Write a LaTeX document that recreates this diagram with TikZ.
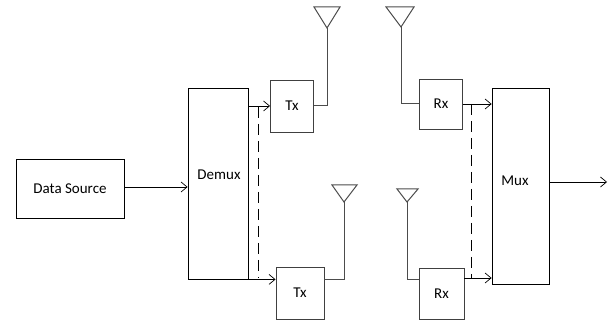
\documentclass[tikz,border=0pt]{standalone}
\usepackage{fontspec}
\setmainfont{Carlito}
\usepackage{tikz}
\usetikzlibrary{calc}
\usetikzlibrary{arrows.meta}
\usetikzlibrary{positioning}

\begin{document}
\begin{tikzpicture}[x=1pt, y=-1pt,
    block/.style={rectangle, draw=black, line width=0.8pt, inner sep=0pt},
    radio/.style={rectangle, draw=black!75, line width=0.9pt, inner sep=0pt,
      minimum width=43pt, minimum height=52pt},
    feed/.style={draw=black!70, line width=1pt},
    link/.style={-{Straight Barb[length=6pt, width=10pt, line width=0.7pt]}, line width=0.8pt},
    tie/.style={line width=0.8pt, dash pattern=on 11pt off 6pt}]
  \useasboundingbox (0,0) rectangle (608,320);
  \fontsize{15}{18}\selectfont

    % Define nodes
    \node[block, minimum width=108pt, minimum height=59pt] (src) at (70,188.5) {Data Source};
    \node[block, minimum width=60pt, minimum height=191pt] (demux) at (218,183.5) {};
    \node (demuxlbl) at (219,175) {Demux};
    \node[block, minimum width=57pt, minimum height=196pt] (mux) at (520.5,186) {};
    \node (muxlbl) at (515,181) {Mux};
    \node[radio] (tx1) at (292,106) {Tx};
    \node[radio, minimum width=48pt] (tx2) at (300,293) {Tx};
    \node[radio, minimum height=50pt] (rx1) at (441,104) {Rx};
    \node[radio, minimum width=45pt, minimum height=51pt] (rx2) at (441.5,293.5) {Rx};
    \coordinate (ant1) at (327,28);
    \coordinate (ant2) at (344,202);
    \coordinate (ant3) at (401,27);
    \coordinate (ant4) at (407,202);
    \coordinate (out) at (607,182);

    % Antennas
    \draw[feed] (ant1) -- ++(-13,-21) -- ++(26,0) -- cycle;
    \draw[feed] (ant2) -- ++(-12,-17) -- ++(25,0) -- cycle;
    \draw[feed] (ant3) -- ++(-15,-20) -- ++(28,0) -- cycle;
    \draw[feed] (ant4) -- ++(-10,-13) -- ++(21,0) -- cycle;

    % Connect the nodes
    \draw[link] (src.east |- 0,187) -- (demux.west |- 0,187);
    \draw[link] (demux.east |- tx1.west) -- (tx1.west);
    \draw[link] (demux.south east) -- (demux.south east -| tx2.west);
    \draw[feed] (tx1.east) -| (ant1);
    \draw[feed] (tx2.east |- demux.south east) -| (ant2);
    \draw[feed] (ant3) |- (rx1.west);
    \draw[feed] (ant4) |- (rx2.west |- 0,280);
    \draw[link] (rx1.east) -- (rx1.east -| mux.west);
    \draw[link] (rx2.east |- 0,278) -- (mux.west |- 0,278);
    \draw[link] (mux.east |- out) -- (out);
    \draw[tie] (258,107) -- (258,278);
    \draw[tie] (471,104) -- (471,278);

\end{tikzpicture}
\end{document}
